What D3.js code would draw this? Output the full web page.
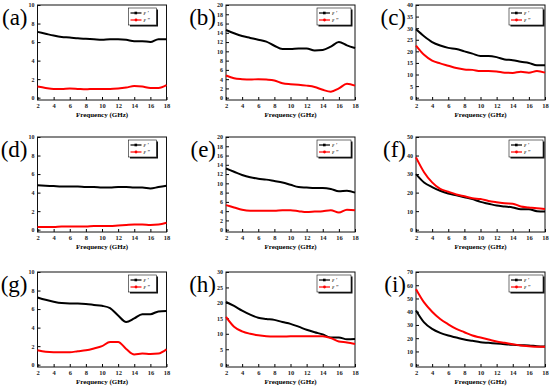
<!DOCTYPE html>
<html>
<head>
<meta charset="utf-8">
<script src="https://cdn.jsdelivr.net/npm/d3@7"></script>
<style>
  body { margin: 0; background: #fff; }
  svg { display: block; }
  text { font-family: "Liberation Serif", "Times New Roman", serif; }
</style>
</head>
<body>
<svg id="chart" width="550" height="390"></svg>
<script>
// frequency samples (GHz)
const freq = [2, 3, 4, 5, 6, 7, 8, 9, 10, 11, 12, 13, 14, 15, 16, 17, 18];

// real part (eps') and imaginary part (eps'') per panel
const aReal = [7.1, 6.9, 6.7, 6.55, 6.5, 6.4, 6.35, 6.3, 6.25, 6.3, 6.3, 6.25, 6.1, 6.1, 6.0, 6.3, 6.3];
const aImag = [1.2, 1.05, 0.95, 0.95, 1.0, 0.95, 0.9, 0.95, 0.95, 0.95, 1.0, 1.1, 1.25, 1.2, 1.05, 1.05, 1.35];
const bReal = [14.6, 13.9, 13.3, 12.9, 12.5, 12.1, 11.2, 10.5, 10.5, 10.6, 10.6, 10.2, 10.3, 11.0, 12.0, 11.3, 10.7];
const bImag = [4.8, 4.2, 4.0, 3.9, 4.0, 3.9, 3.7, 3.1, 2.9, 2.8, 2.6, 2.3, 1.7, 1.3, 2.0, 3.0, 2.6];
const cReal = [29.5, 26.5, 24, 22.5, 21.5, 21, 20, 19, 18, 18, 17.5, 16.5, 16.2, 15.5, 15, 14, 14];
const cImag = [22.5, 18.5, 16, 14.8, 13.8, 12.8, 12.2, 12, 11.5, 11.5, 11.3, 10.8, 10.7, 11.2, 10.8, 11.5, 10.8];
const dReal = [4.8, 4.75, 4.7, 4.65, 4.65, 4.65, 4.6, 4.6, 4.55, 4.55, 4.6, 4.6, 4.55, 4.55, 4.45, 4.6, 4.75];
const dImag = [0.3, 0.3, 0.3, 0.35, 0.35, 0.35, 0.35, 0.4, 0.4, 0.4, 0.45, 0.5, 0.55, 0.55, 0.5, 0.55, 0.75];
const eReal = [13.2, 12.5, 11.8, 11.3, 11.0, 10.8, 10.5, 10.2, 9.7, 9.2, 9.1, 9.0, 9.0, 8.8, 8.3, 8.4, 8.0];
const eImag = [5.3, 4.8, 4.3, 4.1, 4.1, 4.1, 4.1, 4.2, 4.2, 4.0, 3.8, 3.9, 4.0, 4.2, 3.7, 4.3, 4.2];
const fReal = [30, 25.5, 23, 21, 19.5, 18.5, 17.5, 16.5, 15, 14, 13, 12.5, 12, 11, 11, 10, 9.8];
const fImag = [39, 31, 25.5, 22, 20.5, 19, 18, 17, 16.5, 15.5, 14.8, 14.2, 14, 12.5, 12, 11.5, 11.2];
const gReal = [7.25, 7.0, 6.8, 6.65, 6.6, 6.6, 6.55, 6.45, 6.35, 6.1, 5.3, 4.6, 5.0, 5.45, 5.45, 5.75, 5.8];
const gImag = [1.55, 1.4, 1.35, 1.35, 1.35, 1.45, 1.55, 1.75, 2.0, 2.45, 2.45, 1.7, 1.1, 1.2, 1.15, 1.2, 1.65];
const hReal = [20.3, 19, 17.5, 16.2, 15.2, 14.8, 14.5, 13.8, 13.2, 12.3, 11.3, 10.5, 9.8, 8.8, 8.8, 8.2, 8.3];
const hImag = [15.5, 12.3, 10.8, 10, 9.5, 9.2, 9.1, 9.1, 9.2, 9.2, 9.2, 9.2, 9.2, 8.6, 7.5, 7.2, 6.7];
const iReal = [41, 32, 27, 24, 22, 20.5, 19, 18, 17, 16.5, 16, 15.5, 15, 14.7, 14.5, 14, 13.7];
const iImag = [57, 47, 40, 34.5, 30.5, 27, 24.5, 22, 20.5, 19, 17.5, 16.5, 15.5, 14.5, 14, 13.5, 13.5];

// panel letters, y-axis max and tick step
const panelLabels = ['(a)', '(b)', '(c)', '(d)', '(e)', '(f)', '(g)', '(h)', '(i)'];
const yMaxes = [10, 20, 40, 10, 20, 50, 10, 30, 70];
const ySteps = [2, 2, 5, 2, 2, 10, 2, 5, 10];
const realSeries = [aReal, bReal, cReal, dReal, eReal, fReal, gReal, hReal, iReal];
const imagSeries = [aImag, bImag, cImag, dImag, eImag, fImag, gImag, hImag, iImag];
const xTicks = [2, 4, 6, 8, 10, 12, 14, 16, 18];
const legendNames = ['\u03b5 \u2032', '\u03b5 \u2033'];

const svg = d3.select('#chart');

// grid layout of the nine plot boxes
const colLeft = [37.5, 226, 416],
      rowTop = [5, 137, 272],
      plotW = 129,
      plotH = 95,
      legendInset = [10, 4, 2];

panelLabels.forEach((label, k) => {
    const col = k % 3, row = Math.floor(k / 3);
    const left = colLeft[col], top = rowTop[row];

    const x = d3.scaleLinear().domain([2, 18]).range([0, plotW]);
    const y = d3.scaleLinear().domain([-yMaxes[k] * 0.025, yMaxes[k]]).range([plotH, 0]);

    const g = svg.append('g').attr('transform', `translate(${left}, ${top})`);

    // x axis, ticks inward
    const xAxis = g.append('g')
        .attr('transform', `translate(0, ${plotH})`)
        .call(d3.axisBottom(x).tickValues(xTicks).tickSizeInner(-3).tickSizeOuter(0).tickPadding(3));
    xAxis.selectAll('text')
        .style('font-size', '6.5px').style('font-weight', 'bold').attr('fill', '#222');

    const yAxis = g.append('g')
        .call(d3.axisLeft(y).tickValues(d3.range(0, yMaxes[k] + 0.001, ySteps[k])).tickSizeInner(-3).tickSizeOuter(0).tickPadding(3));
    yAxis.selectAll('text')
        .style('font-size', '6px').style('font-weight', 'bold').attr('fill', '#222');
    g.selectAll('.domain').remove();

    // frame
    g.append('rect')
        .attr('width', plotW).attr('height', plotH)
        .attr('fill', 'none').attr('stroke', '#111').attr('stroke-width', 1);

    // curves
    const line = d3.line()
        .x((d, i) => x(freq[i]))
        .y(d => y(d))
        .curve(d3.curveMonotoneX);

    const series = [[realSeries[k], '#000'], [imagSeries[k], '#f00']];
    series.forEach(([vals, color]) => {
        g.append('path')
            .datum(vals)
            .attr('d', line)
            .attr('fill', 'none')
            .attr('stroke', color)
            .attr('stroke-width', 2);
    });

    // axis title
    g.append('text')
        .attr('x', plotW / 2).attr('y', plotH + 17)
        .attr('text-anchor', 'middle')
        .style('font-size', '7px').style('font-weight', 'bold')
        .text('Frequency (GHz)');

    // panel letter
    svg.append('text')
        .attr('x', left - 10).attr('y', top + 20)
        .attr('text-anchor', 'end')
        .style('font-size', '23px')
        .text(label);

    // legend with drop shadow
    const lw = col == 0 ? 28 : 34, lh = 17;
    const lg = g.append('g')
        .attr('transform', `translate(${plotW - legendInset[col] - lw}, 3)`);
    lg.append('rect')
        .attr('x', 1.5).attr('y', 1.5).attr('width', lw).attr('height', lh)
        .attr('fill', '#111');
    lg.append('rect')
        .attr('width', lw).attr('height', lh)
        .attr('fill', '#fff').attr('stroke', '#111').attr('stroke-width', 0.6);
    series.forEach(([vals, color], j) => {
        const ly = 5 + j * 7;
        lg.append('line')
            .attr('x1', 2).attr('x2', 13).attr('y1', ly).attr('y2', ly)
            .attr('stroke', color).attr('stroke-width', 1.2);
        if (j == 0) {
            lg.append('rect')
                .attr('x', 6).attr('y', ly - 1.3).attr('width', 2.6).attr('height', 2.6)
                .attr('fill', color);
        } else {
            lg.append('circle')
                .attr('cx', 7.5).attr('cy', ly).attr('r', 1.4)
                .attr('fill', color);
        }
        lg.append('text')
            .attr('x', 15).attr('y', ly + 2)
            .style('font-size', '6px').style('font-style', 'italic')
            .text(legendNames[j]);
    });
});
</script>
</body>
</html>
